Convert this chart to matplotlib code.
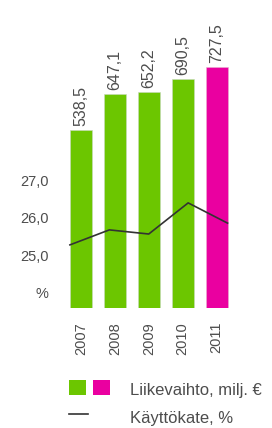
import matplotlib
matplotlib.use("Agg")
import matplotlib.pyplot as plt
from matplotlib.patches import Rectangle
from matplotlib.lines import Line2D
import numpy as np

years = ["2007", "2008", "2009", "2010", "2011"]
revenue = [538.5, 647.1, 652.2, 690.5, 727.5]
revenue_labels = ["538,5", "647,1", "652,2", "690,5", "727,5"]
ebitda = [25.27, 25.67, 25.56, 26.39, 25.85]
pct_ticks = [24, 25, 26, 27]
pct_ticklabels = ["%", "25,0", "26,0", "27,0"]
legend_labels = ["Liikevaihto, milj. €", "Käyttökate, %"]

GREEN = "#6cc600"
PINK = "#ea00a0"
TEXT = "#4d4d4d"
FONT = ["Liberation Sans", "DejaVu Sans"]

W, H = 272, 428
fig = plt.figure(figsize=(W / 100, H / 100), dpi=100)

left_px, right_px, top_px, bottom_px = 64, 233.5, 20, 308
ax = fig.add_axes([left_px / W, 1 - bottom_px / H, (right_px - left_px) / W, (bottom_px - top_px) / H])
x = np.arange(len(years))
colors = [GREEN] * (len(years) - 1) + [PINK]
bw = 0.65
bars = ax.bar(x, revenue, width=bw, color=colors, edgecolor="#c8d8c0", linewidth=0.4)
bars[-1].set_edgecolor("#e8b0d0")
ax.set_xlim(-0.5, len(years) - 0.5)
ax.set_ylim(0, 870)
for xi, v, lab in zip(x, revenue, revenue_labels):
    ax.annotate(lab, (xi, v), xytext=(0, 3), textcoords="offset points",
                rotation=90, ha="center", va="bottom", fontsize=11.5,
                color=TEXT, family=FONT)
ax.set_xticks(x)
ax.set_xticklabels(years, rotation=90, fontsize=10.5, color=TEXT, family=FONT)
ax.tick_params(axis="x", length=0, pad=10)
ax.set_yticks([])
for s in ax.spines.values():
    s.set_visible(False)

ax2 = ax.twinx()
lx = np.linspace(-bw / 2, len(years) - 1 + bw / 2, len(years))
ax2.plot(lx, ebitda, color="#333333", linewidth=1.2)
ax2.set_ylim(23.587, 31.267)
ax2.yaxis.set_ticks_position("left")
ax2.yaxis.set_label_position("left")
ax2.set_yticks(pct_ticks)
ax2.set_yticklabels(pct_ticklabels, fontsize=10.5, color=TEXT, family=FONT)
ax2.tick_params(axis="y", length=0, pad=11)
for s in ax2.spines.values():
    s.set_visible(False)

# legend
def px(xp, yp):
    return xp / W, 1 - yp / H

fig.patches.append(Rectangle(px(69, 395), 17 / W, 15 / H, transform=fig.transFigure,
                             facecolor=GREEN, edgecolor="none"))
fig.patches.append(Rectangle(px(93, 395), 17 / W, 15 / H, transform=fig.transFigure,
                             facecolor=PINK, edgecolor="none"))
fig.lines.append(Line2D([69 / W, 88 / W], [1 - 414 / H] * 2, transform=fig.transFigure,
                        color="#333333", linewidth=1.2))
fig.text(*px(130, 395), legend_labels[0], fontsize=12, color=TEXT, family=FONT, va="baseline", ha="left")
fig.text(*px(130, 423), legend_labels[1], fontsize=12, color=TEXT, family=FONT, va="baseline", ha="left")

fig.savefig("out.png", dpi=100)
